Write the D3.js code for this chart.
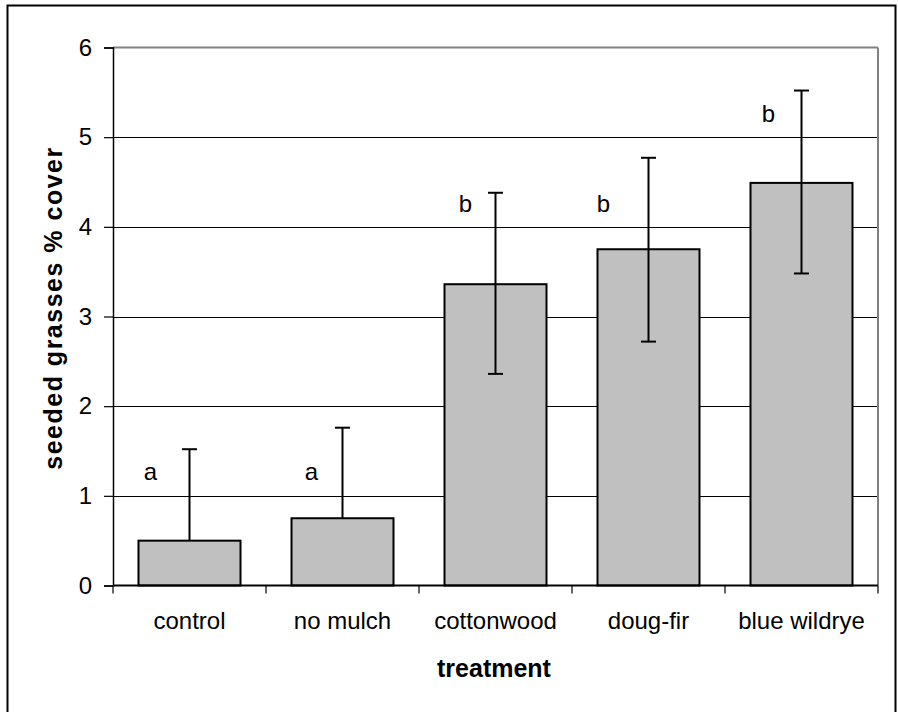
<!DOCTYPE html>
<html>
<head>
<meta charset="utf-8">
<script src="https://cdn.jsdelivr.net/npm/d3@7"></script>
<style>
  html, body { margin: 0; padding: 0; background: #fff; }
  svg { display: block; font-family: "Liberation Sans", Arial, sans-serif; }
</style>
</head>
<body>
<svg id="chart" width="898" height="712"></svg>
<script>
const categories = ["control", "no mulch", "cottonwood", "doug-fir", "blue wildrye"];
const means      = [0.50, 0.75, 3.36, 3.75, 4.49];
const errUpper   = [1.52, 1.76, 4.38, 4.77, 5.52];
const errLower   = [0.50, 0.75, 2.36, 2.72, 3.48];
const letters    = ["a", "a", "b", "b", "b"];
const letterY    = [1.18, 1.18, 4.16, 4.16, 5.17];
const yTicks     = [0, 1, 2, 3, 4, 5, 6];

const letterDx = [-39, -31, -30, -45, -33];

(function () {
const svg = d3.select("#chart");
const mLeft = 113, mRight = 878, mTop = 47.5, mBottom = 585.5;
const FONT = "Liberation Sans, Arial, sans-serif";

// outer frame
svg.append("rect").attr("x", 7.5).attr("y", 5.5).attr("width", 888).attr("height", 720)
  .attr("fill", "#fff").attr("stroke", "#000").attr("stroke-width", 2);

const x = d3.scaleBand().domain(categories).range([mLeft, mRight]).paddingInner(1/3).paddingOuter(1/6);
const xb = d3.scaleBand().domain(categories).range([mLeft, mRight]).padding(0);
const y = d3.scaleLinear().domain([0, 6]).range([mBottom, mTop]);

// gridlines
svg.append("g").selectAll("line").data(yTicks.filter(t => t > 0 && t < 6)).join("line")
  .attr("x1", mLeft).attr("x2", mRight)
  .attr("y1", d => Math.round(y(d)) + 0.5).attr("y2", d => Math.round(y(d)) + 0.5)
  .attr("stroke", "#000").attr("stroke-width", 1);

// plot area border (top and right, gray)
svg.append("line").attr("x1", mLeft).attr("x2", mRight).attr("y1", y(6)).attr("y2", y(6))
  .attr("stroke", "#808080").attr("stroke-width", 2);
svg.append("line").attr("x1", mRight).attr("x2", mRight).attr("y1", y(6)).attr("y2", y(0))
  .attr("stroke", "#808080").attr("stroke-width", 2);

// bars
svg.append("g").selectAll("rect").data(categories).join("rect")
  .attr("x", d => x(d)).attr("width", x.bandwidth())
  .attr("y", (d, i) => y(means[i])).attr("height", (d, i) => y(0) - y(means[i]))
  .attr("fill", "#c0c0c0").attr("stroke", "#000").attr("stroke-width", 2);

// error bars
const eg = svg.append("g").attr("stroke", "#000").attr("stroke-width", 2);
categories.forEach((c, i) => {
  const cx = x(c) + x.bandwidth() / 2;
  eg.append("line").attr("x1", cx).attr("x2", cx).attr("y1", y(errLower[i])).attr("y2", y(errUpper[i]));
  eg.append("line").attr("x1", cx - 7.5).attr("x2", cx + 7.5).attr("y1", y(errUpper[i])).attr("y2", y(errUpper[i]));
  if (errLower[i] < means[i]) {
    eg.append("line").attr("x1", cx - 7.5).attr("x2", cx + 7.5).attr("y1", y(errLower[i])).attr("y2", y(errLower[i]));
  }
});

// significance letters
svg.append("g").selectAll("text").data(letters).join("text")
  .attr("x", (d, i) => x(categories[i]) + x.bandwidth() / 2 + letterDx[i])
  .attr("y", (d, i) => y(letterY[i]))
  .attr("text-anchor", "middle").attr("font-size", 24).attr("font-family", FONT).attr("fill", "#000")
  .text(d => d);

// y axis
const yAxis = d3.axisLeft(y).tickValues(yTicks).tickSize(9).tickPadding(12).tickFormat(d3.format("d"));
const yg = svg.append("g").attr("transform", `translate(${mLeft},0)`).call(yAxis);
yg.select(".domain").attr("stroke", "#000").attr("stroke-width", 1.5);
yg.selectAll(".tick line").attr("stroke", "#000").attr("stroke-width", 1.2);
yg.selectAll(".tick text").attr("font-size", 24).attr("fill", "#000").attr("font-family", FONT);

// x axis
const xAxis = d3.axisBottom(xb).tickSize(0).tickPadding(0);
const xg = svg.append("g").attr("transform", `translate(0,${mBottom})`).call(xAxis);
xg.select(".domain").remove();
xg.append("line").attr("x1", mLeft).attr("x2", mRight).attr("y1", 0).attr("y2", 0)
  .attr("stroke", "#000").attr("stroke-width", 2);
xg.selectAll(".tick line").remove();
xg.selectAll(".tick text").attr("font-size", 24).attr("fill", "#000")
  .attr("y", 43).attr("dy", 0).attr("font-family", FONT);
// boundary ticks
const bounds = categories.map(c => xb(c)).concat([mRight]);
xg.append("g").selectAll("line").data(bounds).join("line")
  .attr("x1", d => d).attr("x2", d => d).attr("y1", 0).attr("y2", 8)
  .attr("stroke", "#000").attr("stroke-width", 1.2);

// axis titles
svg.append("text").attr("x", 494).attr("y", 677).attr("text-anchor", "middle")
  .attr("font-size", 25).attr("font-weight", "bold").attr("font-family", FONT)
  .text("treatment");
svg.append("text").attr("transform", "translate(62,308) rotate(-90)").attr("text-anchor", "middle")
  .attr("font-size", 25).attr("font-weight", "bold").attr("letter-spacing", "1.5px").attr("font-family", FONT)
  .text("seeded grasses % cover");
})();
</script>
</body>
</html>
